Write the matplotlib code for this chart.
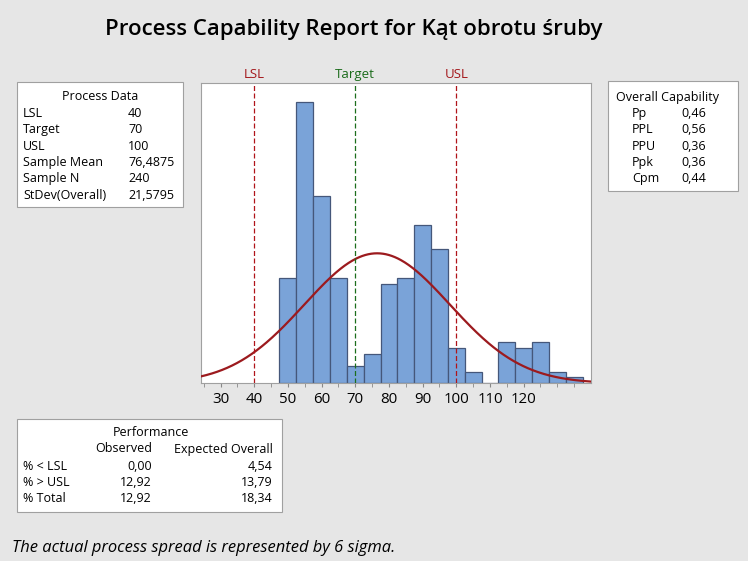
import numpy as np
import matplotlib.pyplot as plt
from matplotlib.patches import Rectangle

plt.rcParams['font.family'] = ['Open Sans', 'DejaVu Sans']

# histogram data (bin width 5)
bin_centers = [50, 55, 60, 65, 70, 75, 80, 85, 90, 95, 100, 105, 110, 115, 120, 125, 130, 135]
counts = [18, 48, 32, 18, 3, 5, 17, 18, 27, 23, 6, 2, 0, 7, 6, 7, 2, 1]
bin_width = 5

lsl, target, usl = 40, 70, 100
mean, sd, n = 76.4875, 21.5795, 240

process_labels = ['LSL', 'Target', 'USL', 'Sample Mean', 'Sample N', 'StDev(Overall)']
process_values = ['40', '70', '100', '76,4875', '240', '21,5795']

cap_labels = ['Pp', 'PPL', 'PPU', 'Ppk', 'Cpm']
cap_values = ['0,46', '0,56', '0,36', '0,36', '0,44']

perf_rows = ['% < LSL', '% > USL', '% Total']
perf_observed = ['0,00', '12,92', '12,92']
perf_expected = ['4,54', '13,79', '18,34']

W, H = 748, 561
bg = '#e6e6e6'
fig = plt.figure(figsize=(W / 100, H / 100), dpi=100, facecolor=bg)


def px(x, y):
    return x / W, 1 - y / H


def box(x0, y0, x1, y1):
    fig.patches.append(Rectangle((x0 / W, 1 - y1 / H), (x1 - x0) / W, (y1 - y0) / H,
                                 transform=fig.transFigure, facecolor='white',
                                 edgecolor='#a0a0a0', lw=0.8))


def txt(x, y, s, **kw):
    kw.setdefault('fontsize', 9)
    kw.setdefault('va', 'center')
    fig.text(*px(x, y), s, **kw)


# main histogram
ax = fig.add_axes([201 / W, (H - 383.3) / H, 390 / W, 300.6 / H])
ax.bar(bin_centers, counts, width=bin_width, color='#7aa3d8', edgecolor='#45577a', lw=0.9, zorder=2)
xs = np.linspace(24, 141, 400)
pdf = n * bin_width / (sd * np.sqrt(2 * np.pi)) * np.exp(-0.5 * ((xs - mean) / sd) ** 2)
ax.plot(xs, pdf, color='#9c1a1e', lw=1.6, zorder=3)
ax.axvline(lsl, color='#b0141a', ls=(0, (4, 2)), lw=0.9, zorder=4)
ax.axvline(usl, color='#b0141a', ls=(0, (4, 2)), lw=0.9, zorder=4)
ax.axvline(target, color='#1c6e1c', ls=(0, (4, 2)), lw=0.9, zorder=4)
ax.set_xlim(24.2, 140)
ax.set_ylim(0, 51.3)
ax.set_yticks([])
ax.set_xticks(range(30, 121, 10))
ax.set_xticklabels([str(v) for v in range(30, 121, 10)], fontsize=10.8)
ax.set_xticks(np.arange(25, 140, 5), minor=True)
ax.tick_params(axis='x', which='both', length=3, color='#888888', pad=3)
for s in ax.spines.values():
    s.set_color('#a0a0a0')
    s.set_linewidth(0.8)

# spec labels above plot
for v, lab, c in [(lsl, 'LSL', '#a3161a'), (target, 'Target', '#1a6b1a'), (usl, 'USL', '#a3161a')]:
    ax.text(v, 1.005, lab, transform=ax.get_xaxis_transform(), ha='center', va='bottom',
            fontsize=9.5, color=c)

# title
txt(354, 29, 'Process Capability Report for Kąt obrotu śruby', ha='center', fontsize=16,
    fontweight='semibold')

# process data box
box(17, 82, 183, 207)
txt(100, 97, 'Process Data', ha='center')
for i, (lab, val) in enumerate(zip(process_labels, process_values)):
    y = 113.5 + i * 16.3
    txt(23, y, lab)
    txt(128, y, val)

# overall capability box
box(608, 81, 738, 191)
txt(668, 97, 'Overall Capability', ha='center')
for i, (lab, val) in enumerate(zip(cap_labels, cap_values)):
    y = 113.5 + i * 16.3
    txt(632, y, lab)
    txt(681, y, val)

# performance box
box(17, 419, 282, 512)
txt(151, 433, 'Performance', ha='center')
txt(152, 449, 'Observed', ha='right')
txt(273, 449, 'Expected Overall', ha='right')
for i, (lab, ob, ex) in enumerate(zip(perf_rows, perf_observed, perf_expected)):
    y = 466 + i * 16.3
    txt(23, y, lab)
    txt(152, y, ob, ha='right')
    txt(273, y, ex, ha='right')

txt(12, 548, 'The actual process spread is represented by 6 sigma.', fontsize=11.9, style='italic')

fig.savefig('out.png', dpi=100, facecolor=bg)
